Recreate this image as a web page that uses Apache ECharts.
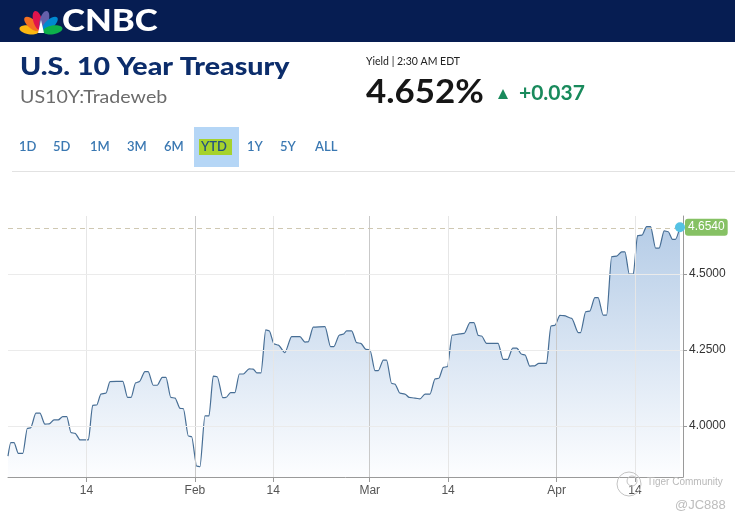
<!DOCTYPE html>
<html><head><meta charset="utf-8">
<script src="https://cdn.jsdelivr.net/npm/echarts@6/dist/echarts.min.js"></script>
<style>html,body{margin:0;padding:0;background:#fff}#c{width:735px;height:522px}</style>
</head><body><div id="c"></div>
<script>
const dates = [
"2024-01-01 00:00","2024-01-01 11:00","2024-01-02 00:00","2024-01-02 17:00","2024-01-03 11:00",
"2024-01-04 05:00","2024-01-04 18:00","2024-01-05 15:00","2024-01-06 07:00","2024-01-07 03:00",
"2024-01-07 20:00","2024-01-08 15:00","2024-01-09 08:00","2024-01-10 02:00","2024-01-10 18:00",
"2024-01-11 11:00","2024-01-12 03:00","2024-01-12 23:00","2024-01-14 08:00","2024-01-15 01:00",
"2024-01-15 17:00","2024-01-16 10:00","2024-01-17 06:00","2024-01-17 22:00","2024-01-20 01:00",
"2024-01-20 20:00","2024-01-21 10:00","2024-01-22 04:00","2024-01-22 19:00","2024-01-23 17:00",
"2024-01-24 06:00","2024-01-25 02:00","2024-01-25 18:00","2024-01-26 14:00","2024-01-27 05:00",
"2024-01-28 00:00","2024-01-28 17:00","2024-01-29 13:00","2024-01-30 02:00","2024-01-30 22:00",
"2024-01-31 11:00","2024-02-01 07:00","2024-02-01 20:00","2024-02-02 16:00","2024-02-03 08:00",
"2024-02-04 01:00","2024-02-04 17:00","2024-02-05 15:00","2024-02-06 04:00","2024-02-06 22:00",
"2024-02-07 15:00","2024-02-08 09:00","2024-02-09 01:00","2024-02-10 00:00","2024-02-10 16:00",
"2024-02-11 06:00","2024-02-11 23:00","2024-02-12 18:00","2024-02-13 08:00","2024-02-14 03:00",
"2024-02-14 20:00","2024-02-15 22:00","2024-02-17 01:00","2024-02-18 10:00","2024-02-19 06:00",
"2024-02-19 19:00","2024-02-20 15:00","2024-02-22 14:00","2024-02-23 12:00","2024-02-24 01:00",
"2024-02-24 23:00","2024-02-25 15:00","2024-02-26 04:00","2024-02-27 00:00","2024-02-27 20:00",
"2024-02-28 12:00","2024-02-29 09:00","2024-03-01 01:00","2024-03-01 21:00","2024-03-02 10:00",
"2024-03-03 06:00","2024-03-03 19:00","2024-03-04 15:00","2024-03-05 04:00","2024-03-06 00:00",
"2024-03-06 20:00","2024-03-07 13:00","2024-03-08 12:00","2024-03-09 08:00","2024-03-10 04:00",
"2024-03-11 00:00","2024-03-11 20:00","2024-03-12 11:00","2024-03-13 05:00","2024-03-13 21:00",
"2024-03-14 16:00","2024-03-15 23:00","2024-03-16 16:00","2024-03-17 15:00","2024-03-18 07:00",
"2024-03-19 00:00","2024-03-19 13:00","2024-03-20 09:00","2024-03-22 07:00","2024-03-23 03:00",
"2024-03-23 21:00","2024-03-24 17:00","2024-03-25 09:00","2024-03-26 05:00","2024-03-26 18:00",
"2024-03-27 13:00","2024-03-28 09:00","2024-03-29 01:00","2024-03-30 08:00","2024-03-31 01:00",
"2024-03-31 17:00","2024-04-01 13:00","2024-04-02 05:00","2024-04-03 12:00","2024-04-04 14:00",
"2024-04-04 23:00","2024-04-05 20:00","2024-04-06 12:00","2024-04-07 08:00","2024-04-07 21:00",
"2024-04-08 17:00","2024-04-09 07:00","2024-04-10 03:00","2024-04-10 23:00","2024-04-11 19:00",
"2024-04-12 08:00","2024-04-13 01:00","2024-04-13 17:00","2024-04-14 10:00","2024-04-15 04:00",
"2024-04-15 22:00","2024-04-16 14:00","2024-04-17 10:00","2024-04-18 00:00","2024-04-18 20:00",
"2024-04-19 12:00","2024-04-20 05:00","2024-04-20 17:00","2024-04-21 11:00"
];
const yields = [
3.901,3.945,3.945,3.910,3.910,
3.992,3.994,4.042,4.042,4.006,
4.007,4.020,4.020,4.031,4.031,
3.978,3.976,3.954,3.954,4.068,
4.069,4.105,4.108,4.146,4.147,
4.094,4.094,4.142,4.146,4.179,
4.179,4.134,4.134,4.160,4.160,
4.094,4.092,4.058,4.057,3.967,
3.965,3.868,3.866,4.033,4.033,
4.164,4.162,4.093,4.094,4.110,
4.110,4.171,4.171,4.188,4.187,
4.175,4.175,4.316,4.313,4.270,
4.266,4.241,4.294,4.294,4.276,
4.277,4.325,4.327,4.261,4.261,
4.299,4.302,4.313,4.313,4.274,
4.272,4.252,4.250,4.182,4.182,
4.217,4.217,4.140,4.138,4.108,
4.105,4.094,4.092,4.089,4.105,
4.105,4.155,4.157,4.193,4.195,
4.299,4.303,4.305,4.340,4.340,
4.298,4.296,4.272,4.272,4.219,
4.219,4.256,4.256,4.236,4.234,
4.197,4.198,4.206,4.206,4.329,
4.331,4.364,4.363,4.354,4.307,
4.307,4.376,4.378,4.422,4.422,
4.365,4.365,4.557,4.559,4.573,
4.573,4.500,4.500,4.626,4.628,
4.656,4.656,4.585,4.585,4.642,
4.639,4.614,4.614,4.654
];
const xMin = "2024-01-01 00:00";
const xMax = "2024-04-21 23:00";
const xTickDates = ["2024-01-14","2024-02-01","2024-02-14","2024-03-01","2024-03-14","2024-04-01","2024-04-14"];
const xTickLabels = ["14","Feb","14","Mar","14","Apr","14"];
const yTicks = [4.0, 4.25, 4.5];
const yMin = 3.8322, yMax = 4.6908;
const lastYield = 4.654;
const rangeButtons = ["1D","5D","1M","3M","6M","YTD","1Y","5Y","ALL"];

function ts(s){
  const parts = s.split(' ');
  const [Y,M,D] = parts[0].split('-').map(Number);
  const [h,m] = (parts[1]||'00:00').split(':').map(Number);
  return new Date(Y, M-1, D, h, m).getTime();
}
const seriesData = dates.map((d,i)=>[ts(d), yields[i]]);
const tickTs = xTickDates.map(ts);
const lastPoint = seriesData[seriesData.length-1];

const chart = echarts.init(document.getElementById('c'), null, {renderer:'canvas'});
const axisFont = 'Liberation Sans, Arial, sans-serif';
const uiFont = 'Lato, "Open Sans", sans-serif';

const vLines = tickTs.map((t,i)=>({xAxis:t, lineStyle:{color: xTickLabels[i]==='14' ? '#e6e6e6' : '#c9c9c9', width:1, type:'solid'}}));
const hLines = yTicks.map(v=>({yAxis:v, lineStyle:{color:'#ebebeb', width:1, type:'solid'}}));

const feathers = [
  {a: 80, c:'#FCB711'},{a: 48, c:'#F37021'},{a: 16, c:'#E0144C'},
  {a:-16, c:'#6460AA'},{a:-48, c:'#0089D0'},{a:-80, c:'#0DB14B'}
].map(f=>({type:'ellipse', x:41, y:32, rotation:f.a*Math.PI/180,
  shape:{cx:0, cy:-12, rx:4.4, ry:9.8}, style:{fill:f.c}, z:10}));

const btnX = [19,53,90,127,164,201,247,280,315];
const buttons = rangeButtons.map((b,i)=>({type:'text', x:btnX[i], y:147,
  style:{text:b, font:'600 13px '+uiFont, fill: b==='YTD' ? '#24527f' : '#3a78b2', textVerticalAlign:'middle'}, z:12}));

const graphic = [
  {type:'rect', shape:{x:0,y:0,width:735,height:42}, style:{fill:'#061d52'}, z:5},
  ...feathers,
  {type:'polygon', shape:{points:[[38,33],[44,33],[41,20]]}, style:{fill:'#ffffff'}, z:11},
  {type:'text', x:62, y:21, scaleX:1.12, style:{text:'CNBC', font:'900 31px '+uiFont, fill:'#fff', textVerticalAlign:'middle'}, z:10},
  {type:'text', x:20, y:67, scaleX:1.19, style:{text:'U.S. 10 Year Treasury', font:'900 24px '+uiFont, fill:'#0c2d6b', textVerticalAlign:'middle'}, z:10},
  {type:'text', x:20, y:97, scaleX:1.09, style:{text:'US10Y:Tradeweb', font:'18px '+uiFont, fill:'#6b6b6b', textVerticalAlign:'middle'}, z:10},
  {type:'text', x:366, y:62, style:{text:'Yield | 2:30 AM EDT', font:'10.5px '+uiFont, fill:'#222', textVerticalAlign:'middle'}, z:10},
  {type:'text', x:366, y:93, scaleX:1.09, style:{text:'4.652%', font:'bold 32px '+uiFont, fill:'#161616', textVerticalAlign:'middle'}, z:10},
  {type:'polygon', shape:{points:[[498,99],[508,99],[503,89]]}, style:{fill:'#198a5c'}, z:10},
  {type:'text', x:519, y:93, style:{text:'+0.037', font:'bold 21px '+uiFont, fill:'#198a5c', textVerticalAlign:'middle'}, z:10},
  {type:'rect', shape:{x:194,y:127,width:45,height:40}, style:{fill:'#b5d6f6'}, z:9},
  {type:'rect', shape:{x:199,y:139,width:33,height:16}, style:{fill:'#a6d22c'}, z:10},
  ...buttons,
  {type:'rect', shape:{x:12,y:171,width:723,height:1}, style:{fill:'#e2e2e2'}, z:10},
  {type:'circle', shape:{cx:629, cy:484, r:12}, style:{fill:'none', stroke:'#c4c4c4', lineWidth:1}, z:20},
  {type:'circle', shape:{cx:632, cy:481, r:5}, style:{fill:'none', stroke:'#c4c4c4', lineWidth:1}, z:20},
  {type:'text', x:647, y:482, style:{text:'Tiger Community', font:'10px '+axisFont, fill:'#b9b9b9', textVerticalAlign:'middle'}, z:20},
  {type:'text', x:675, y:505, style:{text:'@JC888', font:'13px '+axisFont, fill:'#bdbdbd', textVerticalAlign:'middle'}, z:20}
];

chart.setOption({
  animation:false,
  backgroundColor:'#fff',
  graphic: graphic,
  grid:{left:8, right:52, top:216, bottom:45, containLabel:false},
  xAxis:{
    type:'value', min:ts(xMin), max:ts(xMax),
    splitLine:{show:false},
    axisLine:{show:true, lineStyle:{color:'#9a9a9a', width:1}},
    axisTick:{show:true, customValues:tickTs, length:5, lineStyle:{color:'#9a9a9a'}},
    axisLabel:{customValues:tickTs, color:'#555', fontSize:12, margin:8, fontFamily:axisFont,
      formatter:function(v){
        let best=-1, bd=Infinity;
        tickTs.forEach((t,i)=>{const d=Math.abs(t-v); if(d<bd){bd=d;best=i;}});
        return bd < 36e5 ? xTickLabels[best] : '';
      }}
  },
  yAxis:{
    type:'value', position:'right', min:yMin, max:yMax,
    splitLine:{show:false},
    axisLine:{show:true, lineStyle:{color:'#9a9a9a', width:1}},
    axisTick:{show:true, customValues:yTicks, length:4, lineStyle:{color:'#9a9a9a'}},
    axisLabel:{customValues:yTicks, color:'#333', fontSize:12, margin:6, fontFamily:axisFont,
      formatter:v=>Number(v).toFixed(4)}
  },
  series:[
    {
      type:'line', name:'grid', data:seriesData, showSymbol:false, silent:true, z:1,
      lineStyle:{opacity:0}, tooltip:{show:false},
      markLine:{silent:true, symbol:['none','none'], label:{show:false}, animation:false,
        emphasis:{disabled:true},
        data:[...vLines, ...hLines,
          {yAxis:lastYield, lineStyle:{color:'#cfc8b2', width:1, type:[5,4]}}]}
    },
    {
      type:'line', name:'US10Y', data:seriesData, showSymbol:false, z:3,
      smooth:0.25, smoothMonotone:'x',
      lineStyle:{color:'#476e95', width:1.2},
      areaStyle:{color:new echarts.graphic.LinearGradient(0,216,0,477,[
        {offset:0, color:'#92b4db'},{offset:1, color:'#fcfdff'}], true)},
      endLabel:{show:true, formatter:p=>Number(p.value[1]).toFixed(4), color:'#fff',
        backgroundColor:'#86c164', borderRadius:3, padding:[3,3,2,3], fontSize:12,
        fontFamily:axisFont, distance:5},
      markPoint:{silent:true, animation:false, label:{show:false},
        data:[{coord:lastPoint, symbol:'circle', symbolSize:10, itemStyle:{color:'#55c2e4'}}]}
    }
  ]
});
</script></body></html>
